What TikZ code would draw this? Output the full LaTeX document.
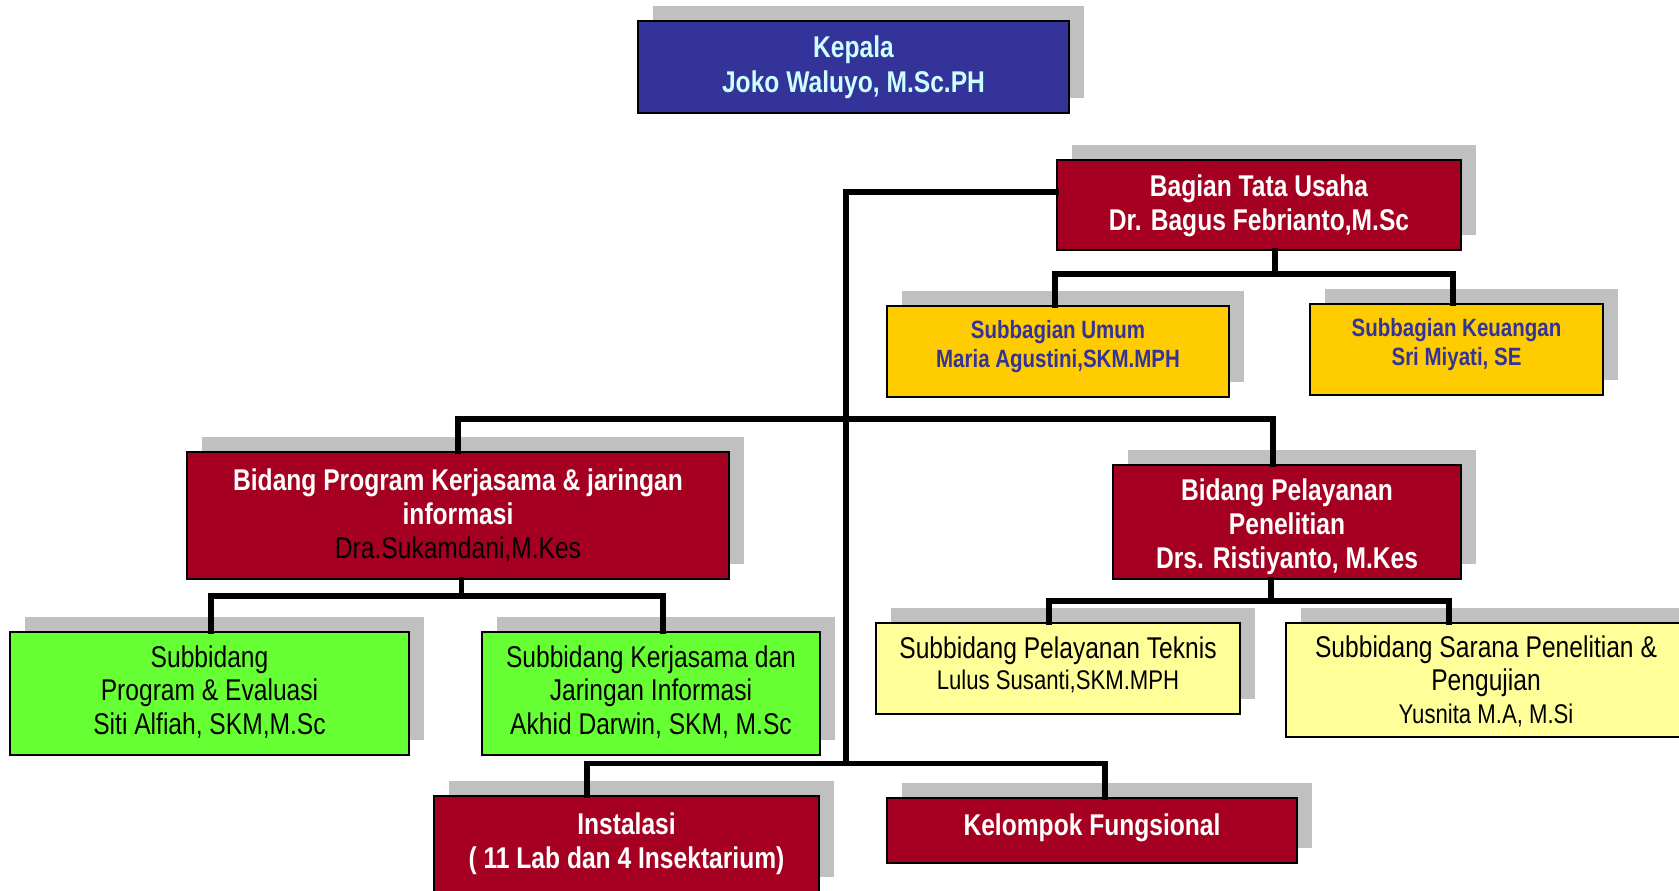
\documentclass[tikz,border=0pt]{standalone}
\usepackage{fontspec}
\setmainfont{Liberation Sans}[FakeStretch=0.82]
\usetikzlibrary{shadows}
\definecolor{kblue}{HTML}{333399}
\definecolor{ktext}{HTML}{CCFFFF}
\definecolor{kred}{HTML}{A50021}
\definecolor{kyel}{HTML}{FFCC00}
\definecolor{kgreen}{HTML}{66FF33}
\definecolor{klight}{HTML}{FFFF99}
\definecolor{kshadow}{HTML}{C0C0C0}
\newcommand{\upby}[2]{\raisebox{#1}[\height][\depth]{\begin{tabular}{@{}c@{}}#2\end{tabular}}}
\newcommand{\namesmall}[1]{{\fontsize{13.5}{16}\selectfont #1}}
\begin{document}
\begin{tikzpicture}[x=0.5pt,y=-0.5pt,
  box/.style={draw=black, line width=0.75pt, rectangle, inner sep=0pt, align=center,
    general shadow={fill=kshadow, shadow xshift=7.5pt, shadow yshift=7.5pt}},
  redbox/.style={box, fill=kred, text=white, font=\fontsize{15}{17}\selectfont\bfseries},
  bluebox/.style={box, fill=kblue, text=ktext, font=\fontsize{15}{17.5}\selectfont\bfseries},
  yelbox/.style={box, fill=kyel, text=kblue, font=\fontsize{12.5}{14.5}\selectfont\bfseries},
  greenbox/.style={box, fill=kgreen, text=black, font=\fontsize{15}{16.5}\selectfont},
  lightbox/.style={box, fill=klight, text=black, font=\fontsize{15}{16.5}\selectfont},
  conn/.style={draw=black, line width=2.6pt, line join=miter, line cap=rect}
]
\clip (0,0) rectangle (1679,890);
\fill[white] (0,0) rectangle (1679,890);

\node[bluebox, minimum width=215.5pt, minimum height=46pt] (kepala) at (853.5,67)
  {Kepala\\Joko Waluyo, M.Sc.PH};
\node[redbox, minimum width=202pt, minimum height=45pt] (btu) at (1259,205)
  {\upby{-0.8pt}{Bagian Tata Usaha\\Dr. Bagus Febrianto,M.Sc}};
\node[yelbox, minimum width=171pt, minimum height=45.5pt] (umum) at (1058,351.5)
  {\upby{2.3pt}{Subbagian Umum\\Maria Agustini,SKM.MPH}};
\node[yelbox, minimum width=146.5pt, minimum height=45.5pt] (keu) at (1456.5,349.5)
  {\upby{2.3pt}{Subbagian Keuangan\\Sri Miyati, SE}};
\node[redbox, minimum width=271pt, minimum height=63.5pt] (bprog) at (458,515.5)
  {Bidang Program Kerjasama \& jaringan\\informasi\\{\mdseries\color{black}Dra.Sukamdani,M.Kes}};
\node[redbox, minimum width=174pt, minimum height=57pt] (bpel) at (1287,522)
  {\upby{-3pt}{Bidang Pelayanan\\Penelitian\\Drs. Ristiyanto, M.Kes}};
\node[greenbox, minimum width=199.5pt, minimum height=61.5pt] (sprog) at (209.5,693.5)
  {\upby{-0.5pt}{Subbidang\\Program \& Evaluasi\\[0.6pt]Siti Alfiah, SKM,M.Sc}};
\node[greenbox, minimum width=169pt, minimum height=61.5pt] (skerja) at (651,693.5)
  {\upby{-0.5pt}{Subbidang Kerjasama dan\\Jaringan Informasi\\[0.6pt]Akhid Darwin, SKM, M.Sc}};
\node[lightbox, minimum width=182pt, minimum height=45.5pt] (stek) at (1058,668.5)
  {\upby{0.5pt}{Subbidang Pelayanan Teknis\\[-1pt]\namesmall{Lulus Susanti,SKM.MPH}}};
\node[lightbox, minimum width=200pt, minimum height=57pt] (ssar) at (1486,680)
  {\upby{-2pt}{Subbidang Sarana Penelitian \&\\Pengujian\\\namesmall{Yusnita M.A, M.Si}}};
\node[redbox, minimum width=192.5pt, minimum height=48pt] (inst) at (626.5,844)
  {\upby{-0.5pt}{Instalasi\\( 11 Lab dan 4 Insektarium)}};
\node[redbox, minimum width=205pt, minimum height=32.5pt] (kel) at (1092,830.5)
  {\upby{1pt}{Kelompok Fungsional}};

% main trunk
\coordinate (tA) at (846,192);
\coordinate (tB) at (846,763.5);
\draw[conn] (btu.west |- tA) -- (tA) -- (tB);
% middle bus
\coordinate (mL) at (458,419);
\coordinate (mR) at (1273,419);
\draw[conn] (mL |- bprog.north) -- (mL) -- (mR) -- (mR |- bpel.north);
% bottom bus
\coordinate (bL) at (587,763.5);
\coordinate (bR) at (1105,763.5);
\draw[conn] (bL |- inst.north) -- (bL) -- (bR) -- (bR |- kel.north);
% Bagian Tata Usaha
\coordinate (u0) at (1275,274);
\coordinate (uL) at (1055,274);
\coordinate (uR) at (1453,274);
\draw[conn] (u0 |- btu.south) -- (u0);
\draw[conn] (uL |- umum.north) -- (uL) -- (uR) -- (uR |- keu.north);
% Bidang Program
\coordinate (p0) at (461.5,596);
\coordinate (pL) at (211,596);
\coordinate (pR) at (663,596);
\draw[conn] (p0 |- bprog.south) -- (p0);
\draw[conn] (pL |- sprog.north) -- (pL) -- (pR) -- (pR |- skerja.north);
% Bidang Pelayanan
\coordinate (q0) at (1271,601);
\coordinate (qL) at (1049,601);
\coordinate (qR) at (1449,601);
\draw[conn] (q0 |- bpel.south) -- (q0);
\draw[conn] (qL |- stek.north) -- (qL) -- (qR) -- (qR |- ssar.north);
\end{tikzpicture}
\end{document}
